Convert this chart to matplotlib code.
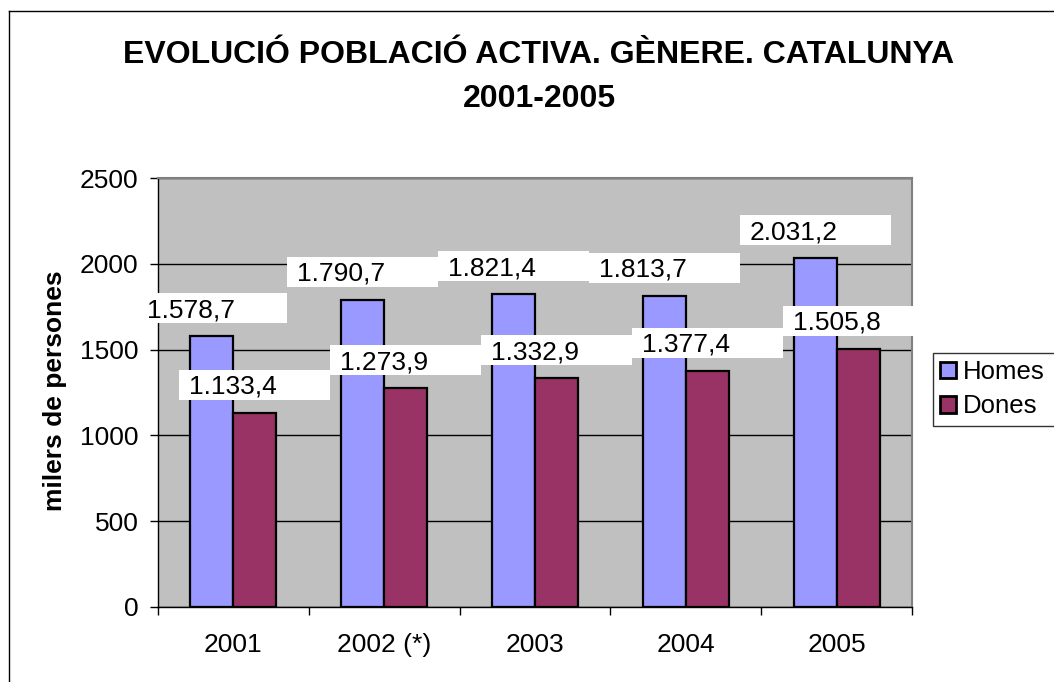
import numpy as np
import matplotlib
matplotlib.use("Agg")
from matplotlib import pyplot as plt
from matplotlib.patches import Rectangle
from matplotlib.lines import Line2D

plt.rcParams['font.family'] = ['Liberation Sans', 'DejaVu Sans']

years = ['2001', '2002 (*)', '2003', '2004', '2005']
homes = [1578.7, 1790.7, 1821.4, 1813.7, 2031.2]
dones = [1133.4, 1273.9, 1332.9, 1377.4, 1505.8]
homes_labels = ['1.578,7', '1.790,7', '1.821,4', '1.813,7', '2.031,2']
dones_labels = ['1.133,4', '1.273,9', '1.332,9', '1.377,4', '1.505,8']

W, H = 1054, 682
fig = plt.figure(figsize=(W / 100, H / 100), dpi=100)
ax = fig.add_axes([158 / W, 1 - 607 / H, (912 - 158) / W, (607 - 178) / H])
ax.set_facecolor('#C0C0C0')

x = np.arange(len(years))
w = 0.285
ax.bar(x - w / 2, homes, w, color='#9999FF', edgecolor='black', linewidth=1.6, zorder=2, label='Homes')
ax.bar(x + w / 2, dones, w, color='#993366', edgecolor='black', linewidth=1.6, zorder=2, label='Dones')

ax.set_xlim(-0.5, 4.5)
ax.set_ylim(0, 2500)
ax.set_yticks([0, 500, 1000, 1500, 2000, 2500])
ax.yaxis.grid(True, color='black', linewidth=1)
ax.set_axisbelow(True)

# category labels in the middle, tick marks on the boundaries
ax.set_xticks(x)
ax.set_xticklabels(years)
ax.set_xticks(np.arange(-0.5, 5, 1), minor=True)
ax.tick_params(axis='x', which='major', length=0, pad=19, labelsize=19)
ax.tick_params(axis='x', which='minor', length=6, width=1, direction='out')
ax.tick_params(axis='y', length=6, width=1, pad=8, labelsize=19)

for s in ['top', 'right']:
    ax.spines[s].set_color('#808080')
    ax.spines[s].set_linewidth(1.5)
for s in ['left', 'bottom']:
    ax.spines[s].set_color('black')
    ax.spines[s].set_linewidth(1)

# data labels in white boxes (Excel style)
upp = 2500 / (607 - 178)  # data units per pixel
def add_labels(xs, vals, texts):
    for xi, v, t in zip(xs, vals, texts):
        bottom = v + 13 * upp
        ax.add_patch(Rectangle((xi - 0.5, bottom), 1.0, 30 * upp, facecolor='white',
                               edgecolor='none', zorder=5, clip_on=False))
        ax.text(xi - 0.5 + 10 / 150.8, bottom + 6 * upp, t, fontsize=19,
                va='baseline', ha='left', zorder=6, clip_on=False)

add_labels(x - w / 2, homes, homes_labels)
add_labels(x + w / 2, dones, dones_labels)

fig.text(55 / W, 1 - 391 / H, 'milers de persones', rotation=90, fontsize=19,
         fontweight='bold', ha='center', va='center')

fig.text(539 / W, 1 - 63 / H, 'EVOLUCIÓ POBLACIÓ ACTIVA. GÈNERE. CATALUNYA',
         fontsize=23, fontweight='bold', ha='center', va='baseline')
fig.text(539 / W, 1 - 107 / H, '2001-2005',
         fontsize=23, fontweight='bold', ha='center', va='baseline')

leg = ax.legend(loc='upper left', mode='expand',
                bbox_to_anchor=(933 / W, 1 - 432 / H, 0.2, 79 / H),
                bbox_transform=fig.transFigure, fontsize=18.5, frameon=True,
                fancybox=False, borderaxespad=0, borderpad=0.28,
                handlelength=0.6, handleheight=0.6, handletextpad=0.3,
                labelspacing=0.4)
leg.get_frame().set_edgecolor('black')
leg.get_frame().set_linewidth(1)
for hnd in leg.legend_handles:
    hnd.set_linewidth(2)

# outer chart border
fig.add_artist(Line2D([9 / W, 9 / W], [0, 1 - 11 / H], color='black', linewidth=1))
fig.add_artist(Line2D([9 / W, 1], [1 - 11 / H, 1 - 11 / H], color='black', linewidth=1))

fig.savefig('out.png', dpi=100)
